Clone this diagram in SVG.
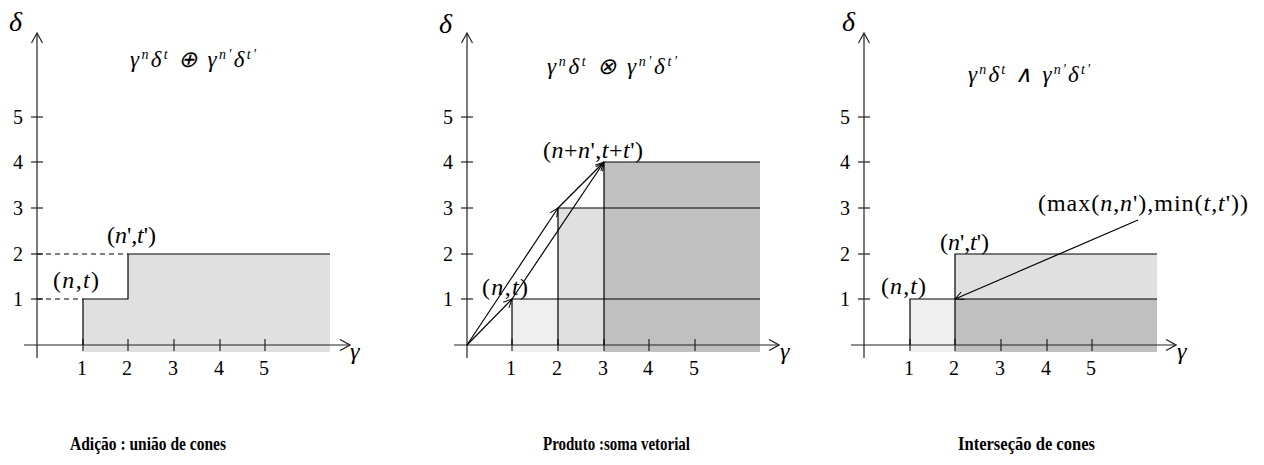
<svg xmlns="http://www.w3.org/2000/svg" width="1264" height="465" viewBox="0 0 1264 465">
<defs>
<style>
.ax{stroke:#222;stroke-width:1.2;fill:none}
.ln{stroke:#000;stroke-width:1.2;fill:none}
.ds{stroke:#000;stroke-width:1;stroke-dasharray:5,4;fill:none}
.tk{stroke:#222;stroke-width:1.2}
.num{font-family:"Liberation Serif","Times New Roman",serif;font-size:20px;fill:#000}
.nx{text-anchor:middle}
.ny{text-anchor:end}
.lab{font-family:"Liberation Serif","Times New Roman",serif;font-size:24px;fill:#000}
.it{font-style:italic}
.greek{font-family:"Liberation Serif","Times New Roman",serif;font-style:italic;fill:#000}
.fm{font-family:"Liberation Serif","Times New Roman",serif;font-style:italic;font-size:23px;fill:#000}
.sup{font-size:14px}
.cap{font-family:"Liberation Serif","Times New Roman",serif;font-weight:bold;font-size:19px;fill:#000}
.f1{fill:#efefef}
.f2{fill:#e0e0e0}
.f3{fill:#c0c0c0}
</style>
<marker id="ah" viewBox="0 0 12 12" refX="11" refY="6" markerWidth="12" markerHeight="12" orient="auto" markerUnits="userSpaceOnUse">
<path d="M1,0.5 L11,6 L1,11.5" fill="none" stroke="#222" stroke-width="1.2"/>
</marker>
<marker id="ahs" viewBox="0 0 10 10" refX="9.5" refY="5" markerWidth="10" markerHeight="10" orient="auto" markerUnits="userSpaceOnUse">
<path d="M1,1 L9.5,5 L1,9" fill="none" stroke="#000" stroke-width="1"/>
</marker>
</defs>
<rect width="1264" height="465" fill="#fff"/>

<!-- Panel 1 -->
<g id="panel1">
<g id="p1-fill">
<path class="f2" d="M83,352 L83,299 L128,299 L128,254 L330,254 L330,352 Z"/>
</g>
<g id="p1-axes">
<line class="ax" x1="37" y1="358" x2="37" y2="33" marker-end="url(#ah)"/>
<line class="ax" x1="24" y1="345" x2="350" y2="345" marker-end="url(#ah)"/>
<line class="tk" x1="31" y1="117" x2="43" y2="117"/>
<line class="tk" x1="31" y1="162" x2="43" y2="162"/>
<line class="tk" x1="31" y1="208" x2="43" y2="208"/>
<line class="tk" x1="31" y1="254" x2="43" y2="254"/>
<line class="tk" x1="31" y1="299" x2="43" y2="299"/>
<line class="tk" x1="83" y1="339" x2="83" y2="351"/>
<line class="tk" x1="128" y1="339" x2="128" y2="351"/>
<line class="tk" x1="174" y1="339" x2="174" y2="351"/>
<line class="tk" x1="220" y1="339" x2="220" y2="351"/>
<line class="tk" x1="265" y1="339" x2="265" y2="351"/>
<text class="num ny" x="23" y="124">5</text>
<text class="num ny" x="23" y="169">4</text>
<text class="num ny" x="23" y="215">3</text>
<text class="num ny" x="23" y="261">2</text>
<text class="num ny" x="23" y="306">1</text>
<text class="num nx" x="82" y="375">1</text>
<text class="num nx" x="127" y="375">2</text>
<text class="num nx" x="173" y="375">3</text>
<text class="num nx" x="219" y="375">4</text>
<text class="num nx" x="264" y="375">5</text>
<text class="greek" x="9" y="31" font-size="28">δ</text>
<text class="greek" x="350" y="359" font-size="24">γ</text>
</g>
<g id="p1-steps">
<path class="ln" d="M83,345 L83,299 L128,299 L128,254 L330,254"/>
<line class="ds" x1="37" y1="299" x2="83" y2="299"/>
<line class="ds" x1="37" y1="254" x2="128" y2="254"/>
</g>
<text class="lab" x="53" y="288" textLength="46">(<tspan class="it">n</tspan>,<tspan class="it">t</tspan>)</text>
<text class="lab" x="107" y="243" textLength="49">(<tspan class="it">n</tspan>',<tspan class="it">t</tspan>')</text>
<text class="fm" x="130" y="67" textLength="126">γ<tspan class="sup" dy="-8">n</tspan><tspan dy="8">δ</tspan><tspan class="sup" dy="-8">t</tspan><tspan dy="8"> ⊕ γ</tspan><tspan class="sup" dy="-8">n'</tspan><tspan dy="8">δ</tspan><tspan class="sup" dy="-8">t'</tspan></text>
<text class="cap" x="70" y="450" textLength="156" lengthAdjust="spacingAndGlyphs">Adição : união de cones</text>
</g>

<!-- Panel 2 -->
<g id="panel2">
<g id="p2-fill">
<rect class="f1" x="512" y="299" width="46" height="53"/>
<rect class="f2" x="558" y="208" width="46" height="144"/>
<rect class="f3" x="604" y="162" width="156" height="190"/>
</g>
<g id="p2-axes">
<line class="ax" x1="467" y1="358" x2="467" y2="33" marker-end="url(#ah)"/>
<line class="ax" x1="454" y1="345" x2="779" y2="345" marker-end="url(#ah)"/>
<line class="tk" x1="461" y1="117" x2="473" y2="117"/>
<line class="tk" x1="461" y1="162" x2="473" y2="162"/>
<line class="tk" x1="461" y1="208" x2="473" y2="208"/>
<line class="tk" x1="461" y1="254" x2="473" y2="254"/>
<line class="tk" x1="461" y1="299" x2="473" y2="299"/>
<line class="tk" x1="512" y1="339" x2="512" y2="351"/>
<line class="tk" x1="558" y1="339" x2="558" y2="351"/>
<line class="tk" x1="604" y1="339" x2="604" y2="351"/>
<line class="tk" x1="649" y1="339" x2="649" y2="351"/>
<line class="tk" x1="695" y1="339" x2="695" y2="351"/>
<text class="num ny" x="453" y="124">5</text>
<text class="num ny" x="453" y="169">4</text>
<text class="num ny" x="453" y="215">3</text>
<text class="num ny" x="453" y="261">2</text>
<text class="num ny" x="453" y="306">1</text>
<text class="num nx" x="511" y="375">1</text>
<text class="num nx" x="557" y="375">2</text>
<text class="num nx" x="603" y="375">3</text>
<text class="num nx" x="648" y="375">4</text>
<text class="num nx" x="694" y="375">5</text>
<text class="greek" x="439" y="33" font-size="28">δ</text>
<text class="greek" x="780" y="359" font-size="24">γ</text>
</g>
<g id="p2-lines">
<path class="ln" d="M512,345 L512,299 L760,299"/>
<path class="ln" d="M558,345 L558,208 L760,208"/>
<path class="ln" d="M604,345 L604,162 L760,162"/>
</g>
<g id="p2-vectors">
<line class="ln" x1="467" y1="345" x2="512" y2="299" marker-end="url(#ahs)"/>
<line class="ln" x1="467" y1="345" x2="558" y2="208" marker-end="url(#ahs)"/>
<line class="ln" x1="512" y1="299" x2="604" y2="162" marker-end="url(#ahs)"/>
<line class="ln" x1="558" y1="208" x2="604" y2="162" marker-end="url(#ahs)"/>
</g>
<text class="lab" x="482" y="295" textLength="46">(<tspan class="it">n</tspan>,<tspan class="it">t</tspan>)</text>
<text class="lab" x="543" y="158" textLength="100">(<tspan class="it">n</tspan>+<tspan class="it">n</tspan>',<tspan class="it">t</tspan>+<tspan class="it">t</tspan>')</text>
<text class="fm" x="547" y="74" textLength="130">γ<tspan class="sup" dy="-8">n</tspan><tspan dy="8">δ</tspan><tspan class="sup" dy="-8">t</tspan><tspan dy="8"> ⊗ γ</tspan><tspan class="sup" dy="-8">n'</tspan><tspan dy="8">δ</tspan><tspan class="sup" dy="-8">t'</tspan></text>
<text class="cap" x="543" y="450" textLength="147" lengthAdjust="spacingAndGlyphs">Produto :soma vetorial</text>
</g>

<!-- Panel 3 -->
<g id="panel3">
<g id="p3-fill">
<rect class="f1" x="910" y="299" width="45" height="53"/>
<rect class="f2" x="955" y="254" width="202" height="45"/>
<rect class="f3" x="955" y="299" width="202" height="53"/>
</g>
<g id="p3-axes">
<line class="ax" x1="864" y1="358" x2="864" y2="33" marker-end="url(#ah)"/>
<line class="ax" x1="851" y1="345" x2="1176" y2="345" marker-end="url(#ah)"/>
<line class="tk" x1="858" y1="117" x2="870" y2="117"/>
<line class="tk" x1="858" y1="162" x2="870" y2="162"/>
<line class="tk" x1="858" y1="208" x2="870" y2="208"/>
<line class="tk" x1="858" y1="254" x2="870" y2="254"/>
<line class="tk" x1="858" y1="299" x2="870" y2="299"/>
<line class="tk" x1="910" y1="339" x2="910" y2="351"/>
<line class="tk" x1="955" y1="339" x2="955" y2="351"/>
<line class="tk" x1="1001" y1="339" x2="1001" y2="351"/>
<line class="tk" x1="1047" y1="339" x2="1047" y2="351"/>
<line class="tk" x1="1092" y1="339" x2="1092" y2="351"/>
<text class="num ny" x="850" y="124">5</text>
<text class="num ny" x="850" y="169">4</text>
<text class="num ny" x="850" y="215">3</text>
<text class="num ny" x="850" y="261">2</text>
<text class="num ny" x="850" y="306">1</text>
<text class="num nx" x="909" y="375">1</text>
<text class="num nx" x="954" y="375">2</text>
<text class="num nx" x="1000" y="375">3</text>
<text class="num nx" x="1046" y="375">4</text>
<text class="num nx" x="1091" y="375">5</text>
<text class="greek" x="842" y="31" font-size="28">δ</text>
<text class="greek" x="1177" y="359" font-size="24">γ</text>
</g>
<g id="p3-lines">
<path class="ln" d="M910,345 L910,299 L1157,299"/>
<path class="ln" d="M955,345 L955,254 L1157,254"/>
</g>
<g id="p3-arrow">
<line class="ln" x1="1138" y1="220" x2="955" y2="299" marker-end="url(#ahs)"/>
</g>
<text class="lab" x="881" y="294" textLength="45">(<tspan class="it">n</tspan>,<tspan class="it">t</tspan>)</text>
<text class="lab" x="940" y="250" textLength="49">(<tspan class="it">n</tspan>',<tspan class="it">t</tspan>')</text>
<text class="lab" x="1038" y="211" textLength="210">(max(<tspan class="it">n</tspan>,<tspan class="it">n</tspan>'),min(<tspan class="it">t</tspan>,<tspan class="it">t</tspan>'))</text>
<text class="fm" x="968" y="82" textLength="122">γ<tspan class="sup" dy="-8">n</tspan><tspan dy="8">δ</tspan><tspan class="sup" dy="-8">t</tspan><tspan dy="8"> ∧ γ</tspan><tspan class="sup" dy="-8">n'</tspan><tspan dy="8">δ</tspan><tspan class="sup" dy="-8">t'</tspan></text>
<text class="cap" x="958" y="450" textLength="137" lengthAdjust="spacingAndGlyphs">Interseção de  cones</text>
</g>
</svg>
